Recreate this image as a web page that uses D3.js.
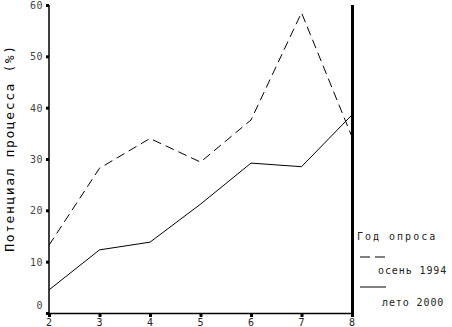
<!DOCTYPE html>
<html>
<head>
<meta charset="utf-8" />
<script src="https://cdn.jsdelivr.net/npm/d3@7/dist/d3.min.js"></script>
<style>
  body { margin: 0; background: #fff; }
  text { font-family: "DejaVu Sans Mono", monospace; fill: #000; }
</style>
</head>
<body>
<svg width="452" height="327"></svg>
<script>
// данные
var stages = [2, 3, 4, 5, 6, 7, 8];
var autumn1994 = [13.2, 28.2, 34.0, 29.4, 37.6, 58.5, 34.3];
var summer2000 = [4.5, 12.3, 13.8, 21.2, 29.2, 28.5, 38.6];
var yTicks = [0, 10, 20, 30, 40, 50, 60];
var seriesNames = ["осень 1994", "лето 2000"];

var svg = d3.select("svg");

var x = d3.scaleLinear().domain([2, 8]).range([49, 352]);
var y = d3.scaleLinear().domain([0, 60]).range([313, 5]);

// оси
svg.append("line")
  .attr("x1", 49).attr("x2", 49)
  .attr("y1", y(60)).attr("y2", y(0) + 1)
  .attr("stroke", "#000").attr("stroke-width", 1.5);
svg.append("line")
  .attr("x1", 49).attr("x2", x(8))
  .attr("y1", y(0) + 0.5).attr("y2", y(0) + 0.5)
  .attr("stroke", "#000").attr("stroke-width", 1.5);
svg.append("line")
  .attr("x1", x(8) + 0.5).attr("x2", x(8) + 0.5)
  .attr("y1", y(60)).attr("y2", y(0) + 2)
  .attr("stroke", "#000").attr("stroke-width", 3);

// деления Y
svg.selectAll(".yt").data(yTicks).enter().append("rect")
  .attr("x", 46).attr("y", function(d){ return y(d) - 1; })
  .attr("width", 3).attr("height", 3).attr("fill", "#000");
svg.selectAll(".yl").data(yTicks).enter().append("text")
  .attr("x", 43).attr("y", function(d){ return d === 0 ? y(d) - 4 : y(d) + 4; })
  .attr("text-anchor", "end")
  .attr("font-size", 10)
  .attr("letter-spacing", 0.5)
  .style("fill", "#444")
  .text(function(d){ return d; });

// деления X
svg.selectAll(".xt").data(stages).enter().append("rect")
  .attr("x", function(d){ return x(d) - 1; }).attr("y", y(0) + 1)
  .attr("width", 3).attr("height", 3).attr("fill", "#000");
svg.selectAll(".xl").data(stages).enter().append("text")
  .attr("x", function(d){ return x(d); }).attr("y", 326)
  .attr("text-anchor", "middle")
  .attr("font-size", 10)
  .style("fill", "#222")
  .text(function(d){ return d; });

// заголовок оси Y
svg.append("text")
  .attr("transform", "translate(14," + 148 + ") rotate(-90)")
  .attr("text-anchor", "middle")
  .attr("font-size", 13)
  .attr("letter-spacing", 1.6)
  .text("Потенциал процесса (%)");

// линии
var line = d3.line()
  .x(function(d, i){ return x(stages[i]); })
  .y(function(d){ return y(d); });

svg.append("path")
  .datum(autumn1994)
  .attr("d", line)
  .attr("fill", "none").attr("stroke", "#000")
  .attr("stroke-width", 1)
  .attr("stroke-dasharray", "9,5");

svg.append("path")
  .datum(summer2000)
  .attr("d", line)
  .attr("fill", "none").attr("stroke", "#000")
  .attr("stroke-width", 1);

// легенда
svg.append("text")
  .attr("x", 357).attr("y", 240)
  .attr("font-size", 10)
  .attr("letter-spacing", 2)
  .style("fill", "#222")
  .text("Год опроса");

var leg = [
  { name: seriesNames[0], dash: "10,5", ly: 257, ty: 274, tx: 378 },
  { name: seriesNames[1], dash: null, ly: 287, ty: 306, tx: 382 }
];
leg.forEach(function(l){
  svg.append("line")
    .attr("x1", 360).attr("x2", 386)
    .attr("y1", l.ly).attr("y2", l.ly)
    .attr("stroke", "#000").attr("stroke-width", 1)
    .attr("stroke-dasharray", l.dash);
  svg.append("text")
    .attr("x", l.tx).attr("y", l.ty)
    .attr("font-size", 10)
    .attr("letter-spacing", 0.9)
    .style("fill", "#222")
    .text(l.name);
});
</script>
</body>
</html>
